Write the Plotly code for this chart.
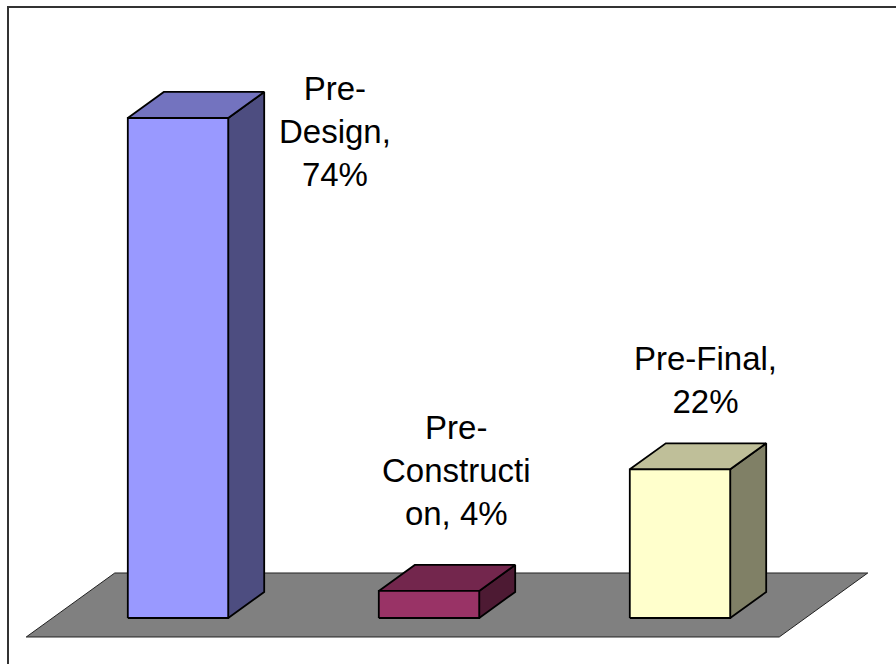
import plotly.graph_objects as go

# ---- data ----
categories = ["Pre-Design", "Pre-Construction", "Pre-Final"]
values = [74, 4, 22]
label_lines = [["Pre-", "Design,", "74%"],
               ["Pre-", "Constructi", "on, 4%"],
               ["Pre-Final,", "22%"]]

# ---- style ----
front_colors = ["#9999FF", "#993366", "#FFFFCC"]
top_colors = ["#7373BF", "#73264D", "#BFBF99"]
side_colors = ["#4D4D80", "#4D1A33", "#808066"]
FLOOR_COLOR = "#808080"
EDGE = "#000000"

BAR_W = 0.4          # bar width in category units
DX, DY = 0.1434, 3.85  # 3-D depth offset (x in category units, y in %)
FLOOR_FRONT, FLOOR_BACK = -0.73, 1.73  # floor extent in bar depths
# label anchor (x in category units, y in %) – styling only
label_pos = [(0.625, 72.0), (1.11, 21.9), (2.10, 35.2)]

X_RANGE = [-0.7092, 2.8606]
Y_RANGE = [-6.808, 91.46]

fig = go.Figure()

def poly(xs, ys, fill, lw=1.8, lc=EDGE):
    fig.add_trace(go.Scatter(
        x=xs + [xs[0]], y=ys + [ys[0]], mode="lines", fill="toself",
        fillcolor=fill, line=dict(color=lc, width=lw),
        hoverinfo="skip", showlegend=False))

# floor
n = len(categories)
fx0, fx1 = -0.5, n - 0.5
poly([fx0 + FLOOR_FRONT * DX, fx1 + FLOOR_FRONT * DX,
      fx1 + FLOOR_BACK * DX, fx0 + FLOOR_BACK * DX],
     [FLOOR_FRONT * DY, FLOOR_FRONT * DY, FLOOR_BACK * DY, FLOOR_BACK * DY],
     FLOOR_COLOR, lw=1, lc="#222222")

# bars
for i, (cat, v) in enumerate(zip(categories, values)):
    x0, x1 = i - BAR_W / 2, i + BAR_W / 2
    # side face
    poly([x1, x1 + DX, x1 + DX, x1], [0, DY, v + DY, v], side_colors[i])
    # top face
    poly([x0, x1, x1 + DX, x0 + DX], [v, v, v + DY, v + DY], top_colors[i])
    # front face
    poly([x0, x1, x1, x0], [0, 0, v, v], front_colors[i])

# labels
for (lx, ly), lines in zip(label_pos, label_lines):
    fig.add_annotation(x=lx, y=ly, xref="x", yref="y", text="<br>".join(lines),
                       showarrow=False, xanchor="center", yanchor="middle",
                       font=dict(family="Liberation Sans, Arial, sans-serif",
                                 size=33, color="#000000"))

# outer chart border (right/bottom edges lie outside the visible area)
fig.add_shape(type="rect", xref="paper", yref="paper",
              x0=8 / 896, x1=1.2, y0=-0.2, y1=1 - 7 / 664,
              line=dict(color="#333333", width=2), fillcolor="rgba(0,0,0,0)",
              layer="above")

fig.update_layout(
    width=896, height=664, autosize=False,
    margin=dict(l=0, r=0, t=0, b=0, pad=0),
    paper_bgcolor="white", plot_bgcolor="white",
    xaxis=dict(range=X_RANGE, visible=False, fixedrange=True),
    yaxis=dict(range=Y_RANGE, visible=False, fixedrange=True),
    showlegend=False,
)

fig.write_html("out.html",
               config={"displayModeBar": False, "staticPlot": True},
               post_script="document.body.style.margin='0';"
                           "document.body.style.overflow='hidden';")
